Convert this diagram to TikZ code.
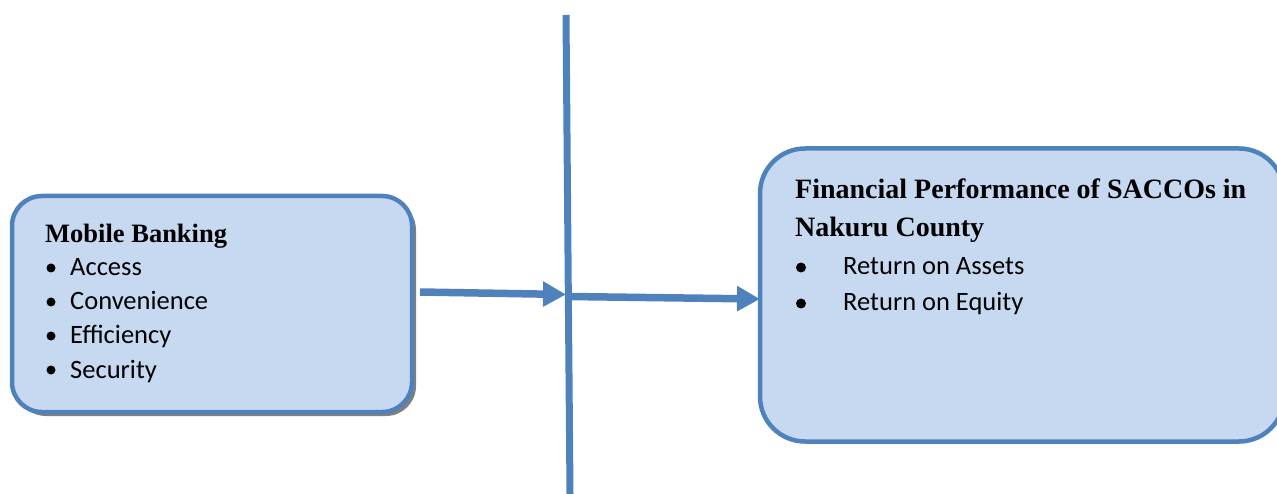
\documentclass[tikz,border=0pt]{standalone}
\usepackage{fontspec}
\setmainfont{Liberation Serif}
\newfontfamily\bodyfont{Carlito}
\usetikzlibrary{arrows.meta,shadows}
\definecolor{boxfill}{HTML}{C6D9F1}
\definecolor{boxline}{HTML}{4F81BD}
\tikzset{
  x=1pt, y=-1pt,
  framebox/.style={draw=boxline, fill=boxfill, line width=4.5pt, rounded corners=30pt},
  titletext/.style={anchor=base west, inner sep=0pt, font=\bfseries\fontsize{26.5}{30}\selectfont},
  itemtext/.style={anchor=base west, inner sep=0pt, font=\bodyfont\fontsize{26.5}{30}\selectfont},
  bul/.style={circle, fill=black, inner sep=0pt, minimum size=9pt},
  conn/.style={draw=boxline, line width=7.5pt, -{Triangle[length=23pt,width=24pt]}},
}
\begin{document}
\begin{tikzpicture}
\useasboundingbox (0,0) rectangle (1277,494);
% left box
\node[framebox, minimum width=400pt, minimum height=216pt, inner sep=0pt,
      drop shadow={shadow xshift=4pt, shadow yshift=-4pt, fill=black!50, opacity=1}]
      (mb) at (212,304) {};
\node[titletext] (mbt) at (45,243) {Mobile Banking};
\node[bul] (b1) at (51,268) {};
\node[itemtext] (i1) at (70,276) {Access};
\node[bul] (b2) at (51,302) {};
\node[itemtext] (i2) at (70,310) {Convenience};
\node[bul] (b3) at (51,336) {};
\node[itemtext] (i3) at (70,344) {Efficiency};
\node[bul] (b4) at (51,370) {};
\node[itemtext] (i4) at (70,378) {Security};
% right box
\node[framebox, rounded corners=45pt, minimum width=524pt, minimum height=293pt, inner sep=0pt]
      (fp) at (1022,295) {};
\node[titletext, font=\bfseries\fontsize{28}{32}\selectfont] (fpt1) at (795,199) {Financial Performance of SACCOs in};
\node[titletext, font=\bfseries\fontsize{28}{32}\selectfont] (fpt2) at (795,237) {Nakuru County};
\node[bul, minimum size=10pt] (b5) at (801,267.5) {};
\node[itemtext] (i5) at (843,275) {Return on Assets};
\node[bul, minimum size=10pt] (b6) at (801,303.5) {};
\node[itemtext] (i6) at (843,311) {Return on Equity};
% vertical line
\coordinate (vtop) at (566,15);
\coordinate (vbot) at (570,494);
\draw[draw=boxline, line width=7pt] (vtop) -- (vbot);
% arrows
\coordinate (a1s) at (420,292);
\coordinate (a1e) at (566,294.5);
\coordinate (a2s) at (569,296.5);
\coordinate (a2e) at (760,299);
\draw[conn] (a1s) -- (a1e);
\draw[conn] (a2s) -- (a2e);
\end{tikzpicture}
\end{document}
